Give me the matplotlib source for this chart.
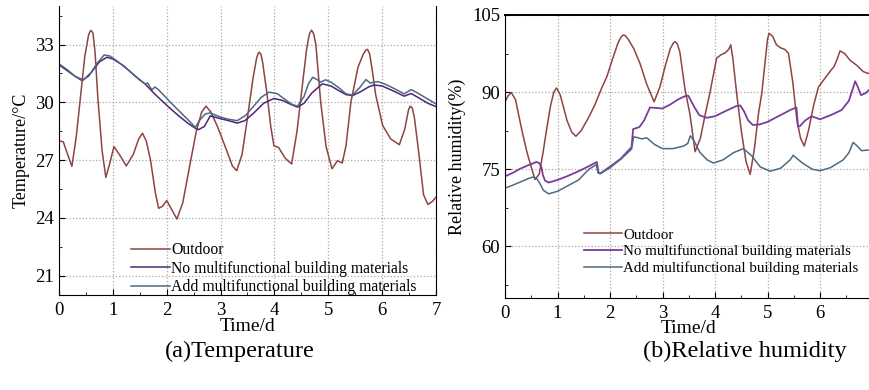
import matplotlib
matplotlib.use('Agg')
import matplotlib.pyplot as plt
from matplotlib.ticker import MultipleLocator

plt.rcParams['font.family'] = ['Liberation Serif', 'DejaVu Serif']

etiquetas = ['Outdoor', 'No multifunctional building materials', 'Add multifunctional building materials']

# Temperatura exterior
t_ext_x = [0, 0.08, 0.16, 0.24, 0.32, 0.40, 0.48, 0.55, 0.58, 0.60, 0.63, 0.67, 0.72, 0.80, 0.87,
           0.94, 1.02, 1.12, 1.25, 1.38, 1.48, 1.55, 1.62, 1.70, 1.79, 1.85, 1.92, 2.0, 2.1, 2.19,
           2.3, 2.42, 2.55, 2.65, 2.73, 2.82, 2.95, 3.1, 3.22, 3.30, 3.40, 3.50, 3.60, 3.67, 3.70,
           3.72, 3.75, 3.78, 3.86, 3.93, 3.99, 4.08, 4.20, 4.32, 4.42, 4.52, 4.60, 4.65, 4.69, 4.73,
           4.77, 4.86, 4.96, 5.07, 5.17, 5.26, 5.33, 5.42, 5.55, 5.65, 5.70, 5.73, 5.77, 5.82, 5.88,
           6.01, 6.16, 6.32, 6.42, 6.49, 6.52, 6.56, 6.60, 6.68, 6.77, 6.85, 6.93, 7.0]
t_ext = [28.0, 27.95, 27.3, 26.68, 28.2, 30.3, 32.4, 33.5, 33.7, 33.73, 33.6, 32.6, 30.3, 27.5, 26.1,
         26.8, 27.7, 27.3, 26.7, 27.3, 28.1, 28.4, 28.0, 27.0, 25.3, 24.5, 24.6, 24.9, 24.4, 23.94,
         24.8, 26.6, 28.5, 29.5, 29.8, 29.5, 28.7, 27.6, 26.7, 26.45, 27.3, 29.2, 31.2, 32.3, 32.55,
         32.6, 32.5, 32.1, 30.5, 28.8, 27.75, 27.65, 27.1, 26.8, 28.5, 30.9, 32.8, 33.55, 33.75, 33.55,
         33.0, 30.0, 27.7, 26.55, 26.97, 26.85, 27.75, 30.0, 31.8, 32.5, 32.72, 32.75, 32.5, 31.6, 30.4,
         28.8, 28.1, 27.8, 28.6, 29.6, 29.8, 29.7, 29.2, 27.4, 25.2, 24.7, 24.85, 25.07]

# Sin materiales multifuncionales
t_sin_x = [0, 0.15, 0.3, 0.45, 0.6, 0.75, 0.89, 1.0, 1.2, 1.4, 1.6, 1.79, 2.0, 2.2, 2.4, 2.53, 2.59,
           2.7, 2.81, 3.0, 3.15, 3.31, 3.45, 3.6, 3.8, 3.99, 4.15, 4.3, 4.43, 4.55, 4.7, 4.89, 5.05,
           5.2, 5.33, 5.45, 5.6, 5.75, 5.85, 6.0, 6.2, 6.41, 6.54, 6.7, 6.85, 7.0]
t_sin = [31.95, 31.65, 31.35, 31.15, 31.55, 32.1, 32.34, 32.25, 31.9, 31.4, 30.95, 30.4, 29.85, 29.35,
         28.9, 28.66, 28.58, 28.75, 29.3, 29.15, 29.05, 28.92, 29.05, 29.4, 29.95, 30.2, 30.1, 29.9,
         29.75, 29.95, 30.5, 30.96, 30.85, 30.6, 30.4, 30.35, 30.55, 30.8, 30.9, 30.85, 30.6, 30.32,
         30.46, 30.2, 29.95, 29.78]

# Con materiales multifuncionales
t_con_x = [0, 0.15, 0.3, 0.42, 0.55, 0.7, 0.84, 0.95, 1.1, 1.3, 1.5, 1.6, 1.65, 1.69, 1.73, 1.78,
           1.85, 2.07, 2.25, 2.44, 2.53, 2.62, 2.72, 2.81, 3.0, 3.15, 3.31, 3.46, 3.6, 3.75, 3.90,
           4.05, 4.2, 4.32, 4.43, 4.55, 4.63, 4.71, 4.78, 4.86, 4.95, 5.05, 5.2, 5.33, 5.45, 5.58,
           5.70, 5.78, 5.92, 6.05, 6.2, 6.41, 6.54, 6.65, 6.8, 7.0]
t_con = [32.0, 31.7, 31.35, 31.13, 31.35, 32.0, 32.46, 32.4, 32.1, 31.65, 31.15, 30.96, 31.0, 30.79,
         30.65, 30.8, 30.65, 30.0, 29.5, 28.97, 28.7, 29.1, 29.4, 29.45, 29.23, 29.12, 29.05, 29.31,
         29.75, 30.25, 30.53, 30.45, 30.15, 29.9, 29.8, 30.3, 30.95, 31.3, 31.2, 31.05, 31.17, 31.05,
         30.75, 30.44, 30.38, 30.75, 31.18, 31.0, 31.08, 30.95, 30.75, 30.44, 30.66, 30.5, 30.25, 29.92]

# Humedad relativa exterior
h_ext_x = [0, 0.06, 0.12, 0.2, 0.32, 0.42, 0.5, 0.57, 0.65, 0.72, 0.79, 0.87, 0.93, 0.98, 1.05,
           1.18, 1.27, 1.35, 1.45, 1.6, 1.71, 1.85, 1.94, 2.05, 2.15, 2.21, 2.25, 2.29, 2.35, 2.45,
           2.57, 2.7, 2.84, 2.95, 3.05, 3.15, 3.21, 3.24, 3.28, 3.33, 3.43, 3.52, 3.62, 3.72, 3.82,
           3.90, 4.03, 4.12, 4.19, 4.26, 4.30, 4.34, 4.42, 4.50, 4.59, 4.67, 4.75, 4.83, 4.89, 4.96,
           5.0, 5.03, 5.06, 5.10, 5.17, 5.25, 5.33, 5.40, 5.48, 5.56, 5.63, 5.70, 5.78, 5.88, 5.97,
           6.08, 6.19, 6.27, 6.33, 6.38, 6.47, 6.57, 6.7, 6.82, 6.92, 7.0]
h_ext = [88.1, 89.3, 89.9, 88.5, 82.6, 78.2, 75.4, 73.0, 74.0, 78.0, 82.6, 87.5, 90.0, 90.8, 89.5,
         84.5, 82.2, 81.4, 82.5, 85.2, 87.5, 91.0, 93.0, 96.5, 99.5, 100.7, 101.1, 101.0, 100.2, 98.5,
         95.6, 91.5, 88.1, 91.0, 95.0, 98.5, 99.6, 99.8, 99.4, 97.8, 90.4, 85.85, 78.4, 81.0, 86.0,
         89.7, 96.6, 97.3, 97.6, 98.3, 99.2, 96.5, 89.0, 82.5, 76.5, 74.0, 79.0, 86.0, 89.7, 96.5,
         100.3, 101.4, 101.2, 100.8, 99.2, 98.6, 98.3, 97.5, 92.0, 84.5, 81.0, 79.5, 82.5, 87.5, 91.0,
         92.5, 94.0, 95.0, 96.5, 98.0, 97.5, 96.2, 95.2, 94.0, 93.6, 94.0]

h_sin_x = [0, 0.15, 0.29, 0.45, 0.60, 0.65, 0.69, 0.72, 0.76, 0.83, 1.0, 1.2, 1.4, 1.6, 1.75, 1.78,
           1.82, 2.0, 2.2, 2.41, 2.44, 2.50, 2.56, 2.65, 2.76, 2.9, 3.0, 3.15, 3.3, 3.43, 3.49, 3.6,
           3.7, 3.84, 4.0, 4.2, 4.41, 4.48, 4.55, 4.63, 4.72, 4.85, 5.0, 5.15, 5.3, 5.45, 5.55, 5.58,
           5.62, 5.72, 5.84, 6.0, 6.2, 6.41, 6.55, 6.67, 6.72, 6.78, 6.87, 7.0]
h_sin = [73.6, 74.3, 75.1, 75.8, 76.4, 76.2, 75.5, 73.9, 72.8, 72.4, 72.9, 73.7, 74.6, 75.6, 76.4,
         74.3, 74.2, 75.5, 77.0, 79.3, 82.8, 83.0, 83.2, 84.5, 87.0, 86.9, 86.8, 87.6, 88.6, 89.2,
         89.3, 87.2, 85.5, 85.0, 85.3, 86.3, 87.3, 87.4, 86.3, 84.5, 83.6, 83.7, 84.2, 85.0, 85.8,
         86.6, 87.0, 83.3, 83.4, 84.5, 85.3, 84.7, 85.5, 86.5, 88.3, 92.1, 91.0, 89.4, 89.8, 91.0]

h_con_x = [0, 0.15, 0.29, 0.45, 0.54, 0.6, 0.66, 0.73, 0.83, 1.0, 1.2, 1.4, 1.6, 1.74, 1.77, 1.81,
           2.0, 2.2, 2.41, 2.45, 2.5, 2.6, 2.7, 2.85, 3.0, 3.2, 3.4, 3.48, 3.53, 3.6, 3.71, 3.85,
           3.97, 4.15, 4.35, 4.54, 4.7, 4.86, 5.05, 5.25, 5.43, 5.49, 5.58, 5.68, 5.85, 6.0, 6.2,
           6.44, 6.55, 6.63, 6.7, 6.79, 6.9, 7.0]
h_con = [71.3, 71.9, 72.5, 73.2, 73.5, 73.2, 72.3, 70.9, 70.2, 70.7, 71.8, 72.9, 75.0, 75.9, 74.3,
         74.1, 75.3, 76.9, 78.9, 81.3, 81.2, 80.9, 81.1, 79.8, 79.0, 79.0, 79.5, 80.0, 81.5, 80.5,
         78.3, 76.8, 76.2, 76.8, 78.2, 79.0, 77.6, 75.45, 74.6, 75.2, 76.8, 77.7, 76.9, 76.1, 75.0,
         74.7, 75.3, 76.8, 78.2, 80.2, 79.6, 78.6, 78.7, 78.8]

t_ticks = [21, 24, 27, 30, 33]
h_ticks = [60, 75, 90, 105]
dias = [0, 1, 2, 3, 4, 5, 6, 7]

rojo = '#8e4442'
morado_t = '#4e2474'
morado_h = '#7a3d98'
azul = '#4d6a80'


def ejes(ax, ticks, menor):
    ax.set_xlim(0, 7)
    ax.set_xticks(dias)
    ax.set_yticks(ticks)
    ax.xaxis.set_minor_locator(MultipleLocator(0.5))
    ax.yaxis.set_minor_locator(MultipleLocator(menor))
    ax.tick_params(which='both', direction='in', labelsize=13.5)
    ax.tick_params(which='major', length=4)
    ax.tick_params(axis='x', which='major', pad=5)
    ax.tick_params(which='minor', length=2.5)
    ax.grid(True, which='major', color='#a8a8a8', linestyle=':', linewidth=0.9)
    ax.set_xlabel('Time/d', fontsize=14, labelpad=-1)


fig = plt.figure(figsize=(8.7, 3.9), dpi=100)

# (a) temperatura
ax1 = fig.add_axes([0.0678, 0.2436, 0.4333, 0.741])
ax1.plot(t_ext_x, t_ext, color=rojo, lw=1.1, label=etiquetas[0])
ax1.plot(t_sin_x, t_sin, color=morado_t, lw=1.1, label=etiquetas[1])
ax1.plot(t_con_x, t_con, color=azul, lw=1.1, label=etiquetas[2])
ax1.set_ylim(20, 35)
ejes(ax1, t_ticks, 1.5)
ax1.spines['top'].set_visible(False)
ax1.set_ylabel('Temperature/°C', fontsize=13, labelpad=4)
ax1.legend(loc='lower left', bbox_to_anchor=(0.19, 0.0), frameon=False, fontsize=11.3,
           handlelength=2.5, handletextpad=0.1, labelspacing=0.15, borderpad=0, borderaxespad=0)

# (b) humedad relativa
ax2 = fig.add_axes([0.5805, 0.2367, 0.4224, 0.7249])
ax2.plot(h_ext_x, h_ext, color=rojo, lw=1.1, label=etiquetas[0])
ax2.plot(h_sin_x, h_sin, color=morado_h, lw=1.3, label=etiquetas[1])
ax2.plot(h_con_x, h_con, color=azul, lw=1.1, label=etiquetas[2])
ax2.set_ylim(50, 105)
ejes(ax2, h_ticks, 7.5)
ax2.spines['top'].set_linewidth(1.4)
ax2.set_ylabel('Relative humidity(%)', fontsize=13, labelpad=4)
ax2.legend(loc='lower left', bbox_to_anchor=(0.215, 0.08), frameon=False, fontsize=10.8,
           handlelength=2.5, handletextpad=0.1, labelspacing=0.2, borderpad=0, borderaxespad=0)

fig.text(0.276, 0.1, '(a)Temperature', ha='center', va='center', fontsize=17.5)
fig.text(0.856, 0.1, '(b)Relative humidity', ha='center', va='center', fontsize=17.5)

fig.savefig('out.png', dpi=100)
